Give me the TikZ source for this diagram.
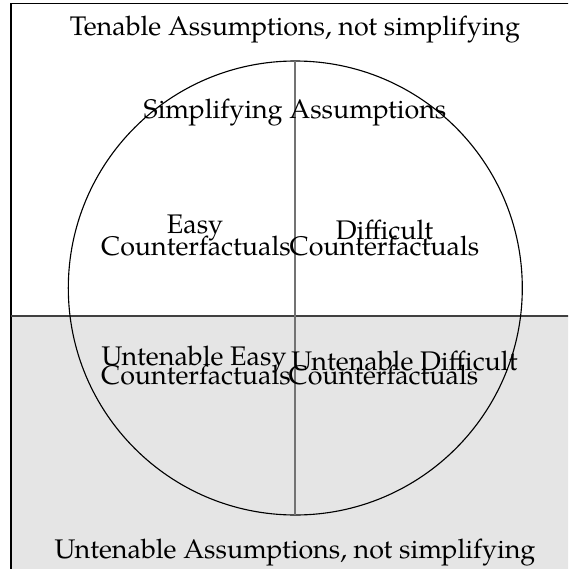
\documentclass[tikz,border=0pt]{standalone}
\usepackage{fontspec}
\setmainfont{TeX Gyre Pagella}
\begin{document}
\begin{tikzpicture}[x=0.357pt,y=-0.357pt,
  lbl/.style={font=\fontsize{9.6}{11.5}\selectfont, inner sep=0pt, anchor=base},
  frameline/.style={line width=0.45pt, black},
  divline/.style={line width=0.45pt, black!75},
  axisline/.style={line width=0.7pt, black!55},
  ring/.style={line width=0.4pt, black}]
\useasboundingbox (0,0) rectangle (568,569);
\clip (0,0) rectangle (568,569);
\fill[black!10] (11,316) rectangle (600,600);
\draw[frameline] (11,3.7) rectangle (600,600);
\coordinate (L) at (11,316);
\coordinate (R) at (600,316);
\draw[divline] (L) -- (R);
\coordinate (C) at (295.3,288);
\draw[ring] (C) circle[radius=227];
\coordinate (T) at (295.3,61);
\coordinate (B) at (295.3,515);
\draw[axisline] (T) -- (B);
\node[lbl] (top) at (295,36) {Tenable Assumptions, not simplifying};
\node[lbl] (bot) at (295,558) {Untenable Assumptions, not simplifying};
\node[lbl] (simp) at (295,118) {Simplifying Assumptions};
\node[lbl] (easyA) at (195,233) {Easy};
\node[lbl] (easyB) at (196,255) {Counterfactuals};
\node[lbl] (diffA) at (384.5,239) {Difficult};
\node[lbl] (diffB) at (384.5,255) {Counterfactuals};
\node[lbl] (uEasyA) at (194,365) {Untenable Easy};
\node[lbl] (uEasyB) at (196,384) {Counterfactuals};
\node[lbl] (uDiffA) at (404.5,370) {Untenable Difficult};
\node[lbl] (uDiffB) at (383.5,384) {Counterfactuals};
\end{tikzpicture}
\end{document}
